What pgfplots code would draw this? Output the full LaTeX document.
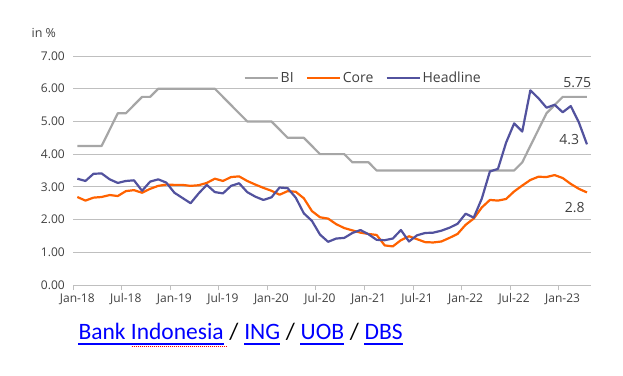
\documentclass[border=0pt]{standalone}
\usepackage{fontspec}
\setmainfont{Open Sans}
\newfontfamily\calibrifont{Carlito}
\usepackage{pgfplots}
\usepackage{pgfplotstable}
\pgfplotsset{compat=1.18}
\definecolor{bigray}{RGB}{166,166,166}
\definecolor{coreor}{RGB}{255,98,0}
\definecolor{headbl}{RGB}{82,82,158}
\definecolor{gridc}{RGB}{191,191,191}
\definecolor{txt}{RGB}{64,64,64}
\definecolor{linkblue}{RGB}{0,0,255}

\pgfplotstableread{
m bi core head
0 4.25 2.69 3.25
1 4.25 2.58 3.18
2 4.25 2.67 3.40
3 4.25 2.69 3.41
4 4.75 2.75 3.23
5 5.25 2.72 3.12
6 5.25 2.87 3.18
7 5.50 2.90 3.20
8 5.75 2.82 2.88
9 5.75 2.94 3.16
10 6.00 3.03 3.23
11 6.00 3.07 3.13
12 6.00 3.06 2.82
13 6.00 3.06 2.66
14 6.00 3.03 2.50
15 6.00 3.05 2.80
16 6.00 3.12 3.06
17 6.00 3.25 2.84
18 5.75 3.18 2.80
19 5.50 3.30 3.03
20 5.25 3.32 3.11
21 5.00 3.18 2.84
22 5.00 3.07 2.70
23 5.00 2.97 2.60
24 5.00 2.88 2.68
25 4.75 2.76 2.98
26 4.50 2.87 2.96
27 4.50 2.85 2.67
28 4.50 2.65 2.19
29 4.25 2.26 1.96
30 4.00 2.07 1.54
31 4.00 2.03 1.32
32 4.00 1.86 1.42
33 4.00 1.74 1.44
34 3.75 1.67 1.59
35 3.75 1.60 1.68
36 3.75 1.56 1.55
37 3.50 1.53 1.38
38 3.50 1.21 1.37
39 3.50 1.18 1.42
40 3.50 1.37 1.68
41 3.50 1.49 1.33
42 3.50 1.40 1.52
43 3.50 1.31 1.59
44 3.50 1.30 1.60
45 3.50 1.33 1.66
46 3.50 1.44 1.75
47 3.50 1.56 1.87
48 3.50 1.84 2.18
49 3.50 2.03 2.06
50 3.50 2.37 2.64
51 3.50 2.60 3.47
52 3.50 2.58 3.55
53 3.50 2.63 4.35
54 3.50 2.86 4.94
55 3.75 3.04 4.69
56 4.25 3.21 5.95
57 4.75 3.31 5.71
58 5.25 3.30 5.42
59 5.50 3.36 5.51
60 5.75 3.27 5.28
61 5.75 3.09 5.47
62 5.75 2.94 4.97
63 5.75 2.83 4.30
}\datatable

\begin{document}
\begin{tikzpicture}[x=1pt,y=1pt]
\useasboundingbox (0,0) rectangle (623,375);
\begin{axis}[
  at={(73.3pt,90pt)}, anchor=south west,
  scale only axis, width=517.7pt, height=229pt,
  xmin=-0.5, xmax=63.5, ymin=0, ymax=7,
  axis x line=bottom, axis y line=left,
  x axis line style={-, draw=gridc, line width=1pt},
  y axis line style={draw=none},
  ytick={0,1,...,7},
  yticklabel style={font=\fontsize{12}{14}\selectfont, text=txt,
    /pgf/number format/fixed, /pgf/number format/fixed zerofill,
    /pgf/number format/precision=2, /pgf/number format/assume math mode=true},
  xtick={-0.5,5.5,11.5,17.5,23.5,29.5,35.5,41.5,47.5,53.5,59.5},
  xticklabels={Jan-18,Jul-18,Jan-19,Jul-19,Jan-20,Jul-20,Jan-21,Jul-21,Jan-22,Jul-22,Jan-23},
  xticklabel style={xshift=4pt, font=\fontsize{12}{14}\selectfont, text=txt},
  tick align=outside, major tick length=5pt,
  xtick style={draw=gridc, line width=1pt},
  ytick style={draw=none},
  ymajorgrids, grid style={gridc, line width=1pt},
  clip=false,
  legend columns=3,
  legend image code/.code={\draw[#1] (0pt,0pt) -- (33pt,0pt);},
  legend style={at={(0.3284,0.9026)}, anchor=west, draw=none, fill=none,
    inner sep=0pt, font=\fontsize{14}{16}\selectfont, text=txt,
    /tikz/every even column/.append style={column sep=10pt}},
]
\addplot[bigray, line width=2.2pt, line join=round] table[x=m,y=bi]{\datatable};
\addlegendentry{BI}
\addplot[coreor, line width=2.2pt, line join=round] table[x=m,y=core]{\datatable};
\addlegendentry{Core}
\addplot[headbl, line width=2.2pt, line join=round] table[x=m,y=head]{\datatable};
\addlegendentry{Headline}
\node[text=txt, font=\fontsize{14}{16}\selectfont] at (axis cs:61.8,6.19) {5.75};
\node[text=txt, font=\fontsize{14}{16}\selectfont] at (axis cs:60.8,4.46) {4.3};
\node[text=txt, font=\fontsize{14}{16}\selectfont] at (axis cs:61.5,2.38) {2.8};
\end{axis}
\node[text=txt, font=\fontsize{12.5}{14}\selectfont] at (43.8,342.3) {in \%};
\begin{scope}[every node/.style={anchor=base west, inner sep=0pt, font=\calibrifont\fontsize{23.5}{27}\selectfont}]
\node[text=linkblue] (b1) at (78.3,35.7) {Bank Indonesia};
\node (s1) at (b1.base east) {\null\ /\ \null};
\node[text=linkblue] (b2) at (s1.base east) {ING};
\node (s2) at (b2.base east) {\null\ /\ \null};
\node[text=linkblue] (b3) at (s2.base east) {UOB};
\node (s3) at (b3.base east) {\null\ /\ \null};
\node[text=linkblue] (b4) at (s3.base east) {DBS};
\end{scope}
\foreach \n in {b1,b2,b3,b4}{
  \draw[linkblue, line width=1.5pt] ([yshift=-4.7pt]\n.base west) -- ([yshift=-4.7pt]\n.base east);
}
\draw[red, line width=1pt, densely dotted] (131.7,28.3) -- ([yshift=-7.4pt,xshift=2pt]b1.base east);
\end{tikzpicture}
\end{document}
